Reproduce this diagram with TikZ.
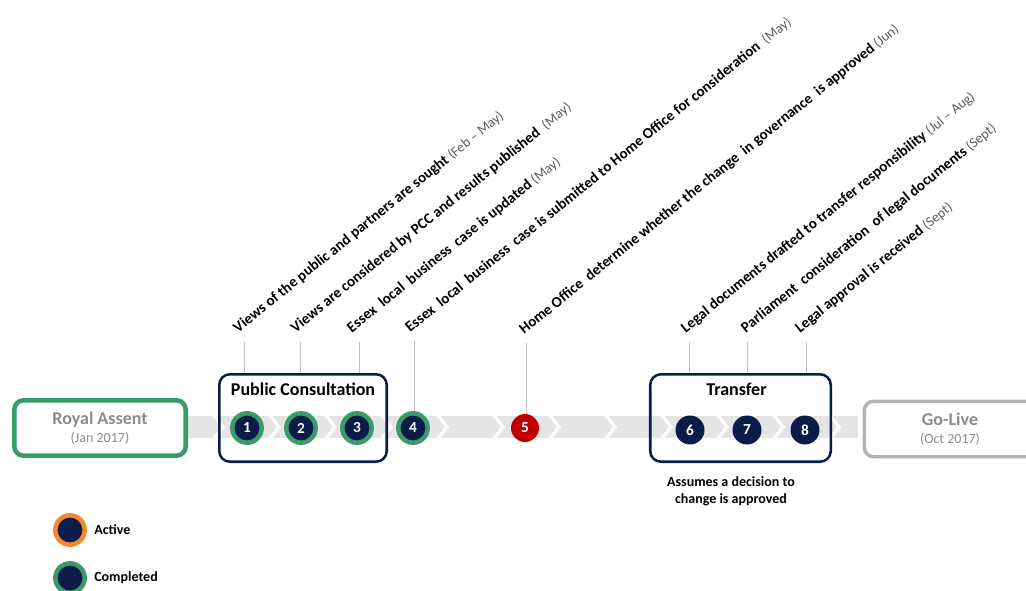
\documentclass[tikz,border=0pt]{standalone}
\usepackage{fontspec}
\setmainfont{Carlito}
\usepackage{xcolor}
\usepackage{tikz}
\usetikzlibrary{positioning}

\definecolor{stepnavy}{HTML}{0B1C48}
\definecolor{donegreen}{HTML}{3A9A6B}
\definecolor{activeorange}{HTML}{F5892A}
\definecolor{decisionred}{HTML}{C00000}
\definecolor{bandgray}{HTML}{E4E4E4}
\definecolor{leadergray}{HTML}{BFBFBF}
\definecolor{stagetext}{HTML}{8C8C8C}
\definecolor{golivegray}{HTML}{B3B3B3}
\definecolor{datetext}{HTML}{5A5A5A}

\tikzstyle{stage} = [rectangle, rounded corners=7pt, fill=white, align=center, minimum width=128.6pt, minimum height=41.6pt, text=stagetext, font=\fontsize{13.5}{15}\selectfont\bfseries]
\tikzstyle{group} = [rectangle, rounded corners=8pt, draw=stepnavy, line width=1.9pt, minimum height=65.6pt]
\tikzstyle{grouptitle} = [font=\fontsize{13.5}{15}\selectfont\bfseries, inner sep=2pt]
\tikzstyle{done} = [circle, draw=donegreen, fill=stepnavy, line width=3.4pt, minimum size=22pt, inner sep=0pt, text=white, font=\fontsize{11.5}{12}\selectfont\bfseries]
\tikzstyle{todo} = [circle, fill=stepnavy, minimum size=21.75pt, inner sep=0pt, text=white, font=\fontsize{11.5}{12}\selectfont\bfseries]
\tikzstyle{milestone} = [rotate=39, anchor=base west, inner sep=0pt, font=\fontsize{11.3}{13}\selectfont\bfseries]
\tikzstyle{leader} = [draw=leadergray, line width=0.7pt]
\tikzstyle{legendtext} = [font=\fontsize{10.5}{12}\selectfont\bfseries]

\newcommand{\when}[1]{{\fontsize{10.5}{12}\selectfont\mdseries\color{datetext}#1}}

\begin{document}
\begin{tikzpicture}[x=0.75pt, y=-0.75pt]
\useasboundingbox (0,0) rectangle (1026,590);

% chevron band behind the steps
\fill[bandgray] (188,416) rectangle (858,438);
\foreach \cx in {218,274,330,386,442,498,554,610,666,722,778,834}
  \draw[white, line width=2.6pt] (\cx-5,414) -- (\cx+5,427) -- (\cx-5,440);

% start and end of the timeline
\node[stage, draw=donegreen, line width=3.4pt] (royal) at (100,428) {Royal Assent\\[-1pt]{\fontsize{10.5}{12}\selectfont\mdseries (Jan 2017)}};
\node[stage, draw=golivegray, line width=2.6pt] (golive) at (950,429) {Go-Live\\[-1pt]{\fontsize{10.5}{12}\selectfont\mdseries (Oct 2017)}};

% grouping boxes
\node[group, minimum width=125.6pt] (pc) at (303,418) {};
\node[grouptitle, below=5.5pt of pc.north] (pctitle) {Public Consultation};
\node[group, minimum width=135.4pt] (tr) at (740.5,418) {};
\node[grouptitle, below=5pt of tr.north, xshift=-3pt] (trtitle) {Transfer};

% steps
\node[done] (s1) at (247,428) {1};
\node[done] (s2) at (301,428) {2};
\node[done] (s3) at (357,428) {3};
\node[done] (s4) at (413,428) {4};
\node[todo, fill=decisionred, minimum size=21pt] (s5) at (525,428) {5};
\node[todo] (s6) at (690,430) {6};
\node[todo] (s7) at (747,430) {7};
\node[todo] (s8) at (805,430) {8};

% leader tops
\coordinate (l1) at (244,342);
\coordinate (l2) at (300,342);
\coordinate (l3) at (359,342);
\coordinate (l4) at (414,341);
\coordinate (l5) at (526,343);
\coordinate (l6) at (689,342);
\coordinate (l7) at (747,342);
\coordinate (l8) at (806,342);

\draw[leader] (l1) -- (l1 |- pc.north);
\draw[leader] (l2) -- (l2 |- pc.north);
\draw[leader] (l3) -- (l3 |- pc.north);
\draw[leader] (l4) -- (l4 |- s4.north);
\draw[leader] (l5) -- (l5 |- s5.north);
\draw[leader] (l6) -- (l6 |- tr.north);
\draw[leader] (l7) -- (l7 |- tr.north);
\draw[leader] (l8) -- (l8 |- tr.north);

% milestone texts
\node[milestone] (t1) at ([xshift=-4.5pt, yshift=6.5pt]l1) {Views of the public and partners are sought \when{(Feb – May)}};
\node[milestone] (t2) at ([xshift=-3.5pt, yshift=6.5pt]l2) {Views are considered by PCC and results published \ \when{(May)}};
\node[milestone] (t3) at ([xshift=-5.5pt, yshift=6.5pt]l3) {Essex \ local \ business \ case is updated \when{(May)}};
\node[milestone] (t4) at ([xshift=-3pt, yshift=6pt]l4) {Essex \ local \ business \ case is submitted to Home Office for consideration \ \when{(May)}};
\node[milestone] (t5) at ([xshift=-1.5pt, yshift=6pt]l5) {Home Office \ determine whether the change \ in governance \ is approved \when{(Jun)}};
\node[milestone] (t6) at ([xshift=-2.5pt, yshift=6.5pt]l6) {Legal documents drafted to transfer responsibility \when{(Jul – Aug)}};
\node[milestone] (t7) at ([xshift=-1pt, yshift=6.5pt]l7) {Parliament \ consideration \ of legal documents \when{(Sept)}};
\node[milestone] (t8) at ([xshift=-4.5pt, yshift=6.5pt]l8) {Legal approval is received \when{(Sept)}};

% note under the transfer box
\node[legendtext, align=center, font=\fontsize{10.5}{13}\selectfont\bfseries] (note) at (731,491) {Assumes a decision to\\change is approved};

% legend
\node[done, draw=activeorange] (lactive) at (70,530) {};
\node[legendtext, right=2pt of lactive] (lactivet) {Active};
\node[done] (ldone) at (70,578) {};
\node[legendtext, right=2pt of ldone] (ldonet) {Completed};

\end{tikzpicture}
\end{document}
